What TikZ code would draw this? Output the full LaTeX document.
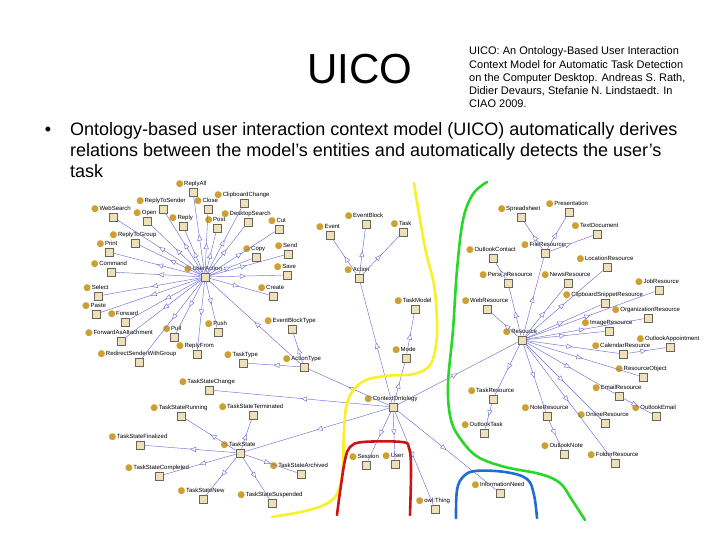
\documentclass[tikz,border=0pt]{standalone}
\usepackage{fontspec}
\setmainfont{Liberation Sans}
\newfontfamily\dotfont{DejaVu Sans}
\usepackage{xcolor}
\definecolor{IsaBlue}{RGB}{110,110,215}
\definecolor{ClsFill}{RGB}{238,225,185}
\definecolor{ClsEdge}{RGB}{105,100,90}
\definecolor{DotGold}{RGB}{205,160,50}
\definecolor{SketchYellow}{RGB}{250,240,40}
\definecolor{SketchGreen}{RGB}{40,215,40}
\definecolor{SketchRed}{RGB}{205,20,20}
\definecolor{SketchBlue}{RGB}{30,110,210}
\usepackage{tikz}
\usetikzlibrary{
    arrows.meta,
    decorations.markings
}
\newcommand{\clsdot}{\raisebox{-1pt}{\textcolor{DotGold}{\dotfont\fontsize{9}{9}\selectfont ●}}\hspace{0.5pt}}

\begin{document}
\begin{tikzpicture}[
    x=1pt, y=-1pt,
    label distance=0.8pt,
    cls/.style={
        draw=ClsEdge,
        fill=ClsFill,
        line width=0.7pt,
        minimum size=8pt,
        inner sep=0pt,
        label={[lbl]90:{\clsdot#1}}
    },
    lbl/.style={
        font=\fontsize{6}{6}\selectfont,
        inner sep=0pt,
        text height=5pt,
        text depth=1.5pt,
        xshift=-2pt
    },
    isa/.style={
        color=IsaBlue,
        line width=0.45pt,
        postaction={decorate},
        decoration={markings,
            mark=at position 0.5 with {\arrow{Triangle[fill=white, length=6pt, width=5pt]}}}
    },
    sketch/.style={
        line width=2.6pt,
        line cap=round,
        line join=round
    }
]
\useasboundingbox (0,0) rectangle (720,540);
%
\node[font=\fontsize{42}{42}\selectfont, anchor=base] (title) at (360,84) {UICO};
%
% base of a multi-line node is its last line
\node[font=\fontsize{11}{13.25}\selectfont, align=left, anchor=base west, inner sep=0pt] (cite) at (469,108) {
    UICO: An Ontology-Based User Interaction\\
    Context Model for Automatic Task Detection\\
    on the Computer Desktop. Andreas S. Rath,\\
    Didier Devaurs, Stefanie N. Lindstaedt. In\\
    CIAO 2009.
};
%
\node[font=\fontsize{18}{21}\selectfont, anchor=base, inner sep=0pt] (bul) at (48,136) {•};
\node[font=\fontsize{18}{21}\selectfont, align=left, anchor=base west, inner sep=0pt] (body) at (70,178) {
    Ontology-based user interaction context model (UICO) automatically derives\\
    relations between the model's entities and automatically detects the user's\\
    task
};
%
% user actions
\node[cls=UserAction] (uact) at (205,277) {};
\node[cls=ReplyAll] (replyall) at (193,192) {};
\node[cls=ClipboardChange] (clipchange) at (244,203) {};
\node[cls=ReplyToSender] (replysender) at (163,209) {};
\node[cls=Close] (close) at (208,209) {};
\node[cls=WebSearch] (websearch) at (113,217) {};
\node[cls=Open] (open) at (147,221) {};
\node[cls=Reply] (reply) at (183,226) {};
\node[cls=Post] (post) at (217,228) {};
\node[cls=DesktopSearch] (desksearch) at (248,222) {};
\node[cls=Cut] (cut) at (279,229) {};
\node[cls=ReplyToGroup] (replygroup) at (135,243) {};
\node[cls=Print] (print) at (109,252) {};
\node[cls=Copy] (copy) at (256,257) {};
\node[cls=Send] (send) at (288,254) {};
\node[cls=Command] (command) at (111,272) {};
\node[cls=Save] (save) at (287,275) {};
\node[cls=Select] (select) at (98,296) {};
\node[cls=Create] (create) at (273,296) {};
\node[cls=Paste] (paste) at (96,314) {};
\node[cls=Forward] (forward) at (125,322) {};
\node[cls=ForwardAsAttachment] (fwdattach) at (121,341) {};
\node[cls=Pull] (pull) at (174,337) {};
\node[cls=Push] (push) at (218,332) {};
\node[cls=ReplyFrom] (replyfrom) at (197,354) {};
\node[cls=RedirectSenderWithGroup] (redirect) at (139,362) {};
%
% action and task types
\node[cls=ActionType] (actiontype) at (304,367) {};
\node[cls=EventBlockType] (evblocktype) at (292,329) {};
\node[cls=TaskType] (tasktype) at (243,363) {};
\node[cls=TaskStateChange] (tschange) at (209,390) {};
\node[cls=TaskState] (taskstate) at (240,453) {};
\node[cls=TaskStateRunning] (tsrunning) at (181,416) {};
\node[cls=TaskStateTerminated] (tsterminated) at (253,415) {};
\node[cls=TaskStateFinalized] (tsfinalized) at (140,445) {};
\node[cls=TaskStateCompleted] (tscompleted) at (159,476) {};
\node[cls=TaskStateArchived] (tsarchived) at (301,474) {};
\node[cls=TaskStateNew] (tsnew) at (203,499) {};
\node[cls=TaskStateSuspended] (tssuspended) at (272,503) {};
%
% core
\node[cls=ContextOntology] (ctxonto) at (393,407) {};
\node[cls=Action] (action) at (359,278) {};
\node[cls=Event] (event) at (330,235) {};
\node[cls=EventBlock] (evblock) at (366,224) {};
\node[cls=Task] (task) at (403,232) {};
\node[cls=TaskModel] (taskmodel) at (415,309) {};
\node[cls=Mode] (mode) at (406,358) {};
\node[cls=Session] (session) at (366,465) {};
\node[cls=User] (user) at (395,464) {};
\node[cls=owl:Thing] (thing) at (435,509) {};
\node[cls=InformationNeed] (infoneed) at (500,493) {};
%
% resources
\node[cls=Resource] (resource) at (522,340) {};
\node[cls=FileResource] (fileres) at (545,253) {};
\node[cls=Spreadsheet] (spreadsheet) at (521,217) {};
\node[cls=Presentation] (presentation) at (569,212) {};
\node[cls=TextDocument] (textdoc) at (597,234) {};
\node[cls=OutlookContact] (outlookcontact) at (493,258) {};
\node[cls=PersonResource] (personres) at (508,283) {};
\node[cls=WebResource] (webres) at (487,309) {};
\node[cls=NewsResource] (newsres) at (568,283) {};
\node[cls=LocationResource] (locationres) at (607,267) {};
\node[cls=JobResource] (jobres) at (659,290) {};
\node[cls=ClipboardSnippetResource] (clipsnippet) at (605,303) {};
\node[cls=OrganizationResource] (orgres) at (648,318) {};
\node[cls=ImageResource] (imageres) at (609,331) {};
\node[cls=CalendarResource] (calendarres) at (623,354) {};
\node[cls=OutlookAppointment] (outlookappt) at (670,347) {};
\node[cls=ResourceObject] (resobject) at (643,377) {};
\node[cls=EmailResource] (emailres) at (619,396) {};
\node[cls=OutlookEmail] (outlookemail) at (656,416) {};
\node[cls=TaskResource] (taskres) at (493,399) {};
\node[cls=OutlookTask] (outlooktask) at (484,433) {};
\node[cls=NoteResource] (noteres) at (547,416) {};
\node[cls=OutlookNote] (outlooknote) at (564,454) {};
\node[cls=OnlineResource] (onlineres) at (605,423) {};
\node[cls=FolderResource] (folderres) at (615,463) {};
%
% subclass links
\draw[isa] (actiontype) -- (uact);
\draw[isa] (uact) -- (replyall);
\draw[isa] (uact) -- (clipchange);
\draw[isa] (uact) -- (replysender);
\draw[isa] (uact) -- (close);
\draw[isa] (uact) -- (websearch);
\draw[isa] (uact) -- (open);
\draw[isa] (uact) -- (reply);
\draw[isa] (uact) -- (post);
\draw[isa] (uact) -- (desksearch);
\draw[isa] (uact) -- (cut);
\draw[isa] (uact) -- (replygroup);
\draw[isa] (uact) -- (print);
\draw[isa] (uact) -- (copy);
\draw[isa] (uact) -- (send);
\draw[isa] (uact) -- (command);
\draw[isa] (uact) -- (save);
\draw[isa] (uact) -- (select);
\draw[isa] (uact) -- (create);
\draw[isa] (uact) -- (paste);
\draw[isa] (uact) -- (forward);
\draw[isa] (uact) -- (fwdattach);
\draw[isa] (uact) -- (pull);
\draw[isa] (uact) -- (push);
\draw[isa] (uact) -- (replyfrom);
\draw[isa] (uact) -- (redirect);
%
\draw[isa] (actiontype) -- (evblocktype);
\draw[isa] (actiontype) -- (tasktype);
\draw[isa] (taskstate) -- (tsrunning);
\draw[isa] (taskstate) -- (tsterminated);
\draw[isa] (taskstate) -- (tsfinalized);
\draw[isa] (taskstate) -- (tscompleted);
\draw[isa] (taskstate) -- (tsarchived);
\draw[isa] (taskstate) -- (tsnew);
\draw[isa] (taskstate) -- (tssuspended);
%
\draw[isa] (ctxonto) -- (action);
\draw[isa] (ctxonto) -- (mode);
\draw[isa] (mode) -- (taskmodel);
\draw[isa] (ctxonto) -- (actiontype);
\draw[isa] (ctxonto) -- (tschange);
\draw[isa] (ctxonto) -- (taskstate);
\draw[isa] (ctxonto) -- (session);
\draw[isa] (ctxonto) -- (user);
\draw[isa] (ctxonto) -- (thing);
\draw[isa] (ctxonto) -- (infoneed);
\draw[isa] (ctxonto) -- (resource);
\draw[isa] (action) -- (event);
\draw[isa] (action) -- (evblock);
\draw[isa] (action) -- (task);
%
\draw[isa] (resource) -- (fileres);
\draw[isa] (fileres) -- (spreadsheet);
\draw[isa] (fileres) -- (presentation);
\draw[isa] (fileres) -- (textdoc);
\draw[isa] (resource) -- (personres);
\draw[isa] (personres) -- (outlookcontact);
\draw[isa] (resource) -- (webres);
\draw[isa] (resource) -- (newsres);
\draw[isa] (resource) -- (locationres);
\draw[isa] (resource) -- (jobres);
\draw[isa] (resource) -- (clipsnippet);
\draw[isa] (resource) -- (orgres);
\draw[isa] (resource) -- (imageres);
\draw[isa] (resource) -- (calendarres);
\draw[isa] (calendarres) -- (outlookappt);
\draw[isa] (resource) -- (resobject);
\draw[isa] (resource) -- (emailres);
\draw[isa] (emailres) -- (outlookemail);
\draw[isa] (resource) -- (taskres);
\draw[isa] (taskres) -- (outlooktask);
\draw[isa] (resource) -- (noteres);
\draw[isa] (noteres) -- (outlooknote);
\draw[isa] (resource) -- (onlineres);
\draw[isa] (resource) -- (folderres);
%
% hand drawn regions
\draw[sketch, SketchYellow] plot[smooth, tension=0.6] coordinates {
    (414,183) (418,208) (426,252) (434,285) (437,320) (436,345) (430,365)
    (414,374) (385,376) (362,382) (348,400) (344,430) (343,465) (339,490)
    (328,503) (305,511) (272,517)};
\draw[sketch, SketchGreen] plot[smooth, tension=0.6] coordinates {
    (487,182) (473,194) (463,220) (457,270) (453,330) (448,385) (451,420)
    (462,441) (478,457) (505,467) (540,474) (560,483) (572,500) (585,520)};
\draw[sketch, SketchRed] plot[smooth, tension=0.6] coordinates {
    (337,515) (340,492) (345,460) (350,447) (363,442) (402,442) (409,448)
    (411,468) (410,515)};
\draw[sketch, SketchBlue] plot[smooth, tension=0.6] coordinates {
    (456,518) (457,490) (463,477) (475,471) (505,472) (527,479) (534,495)
    (537,518)};
%
\end{tikzpicture}
\end{document}
